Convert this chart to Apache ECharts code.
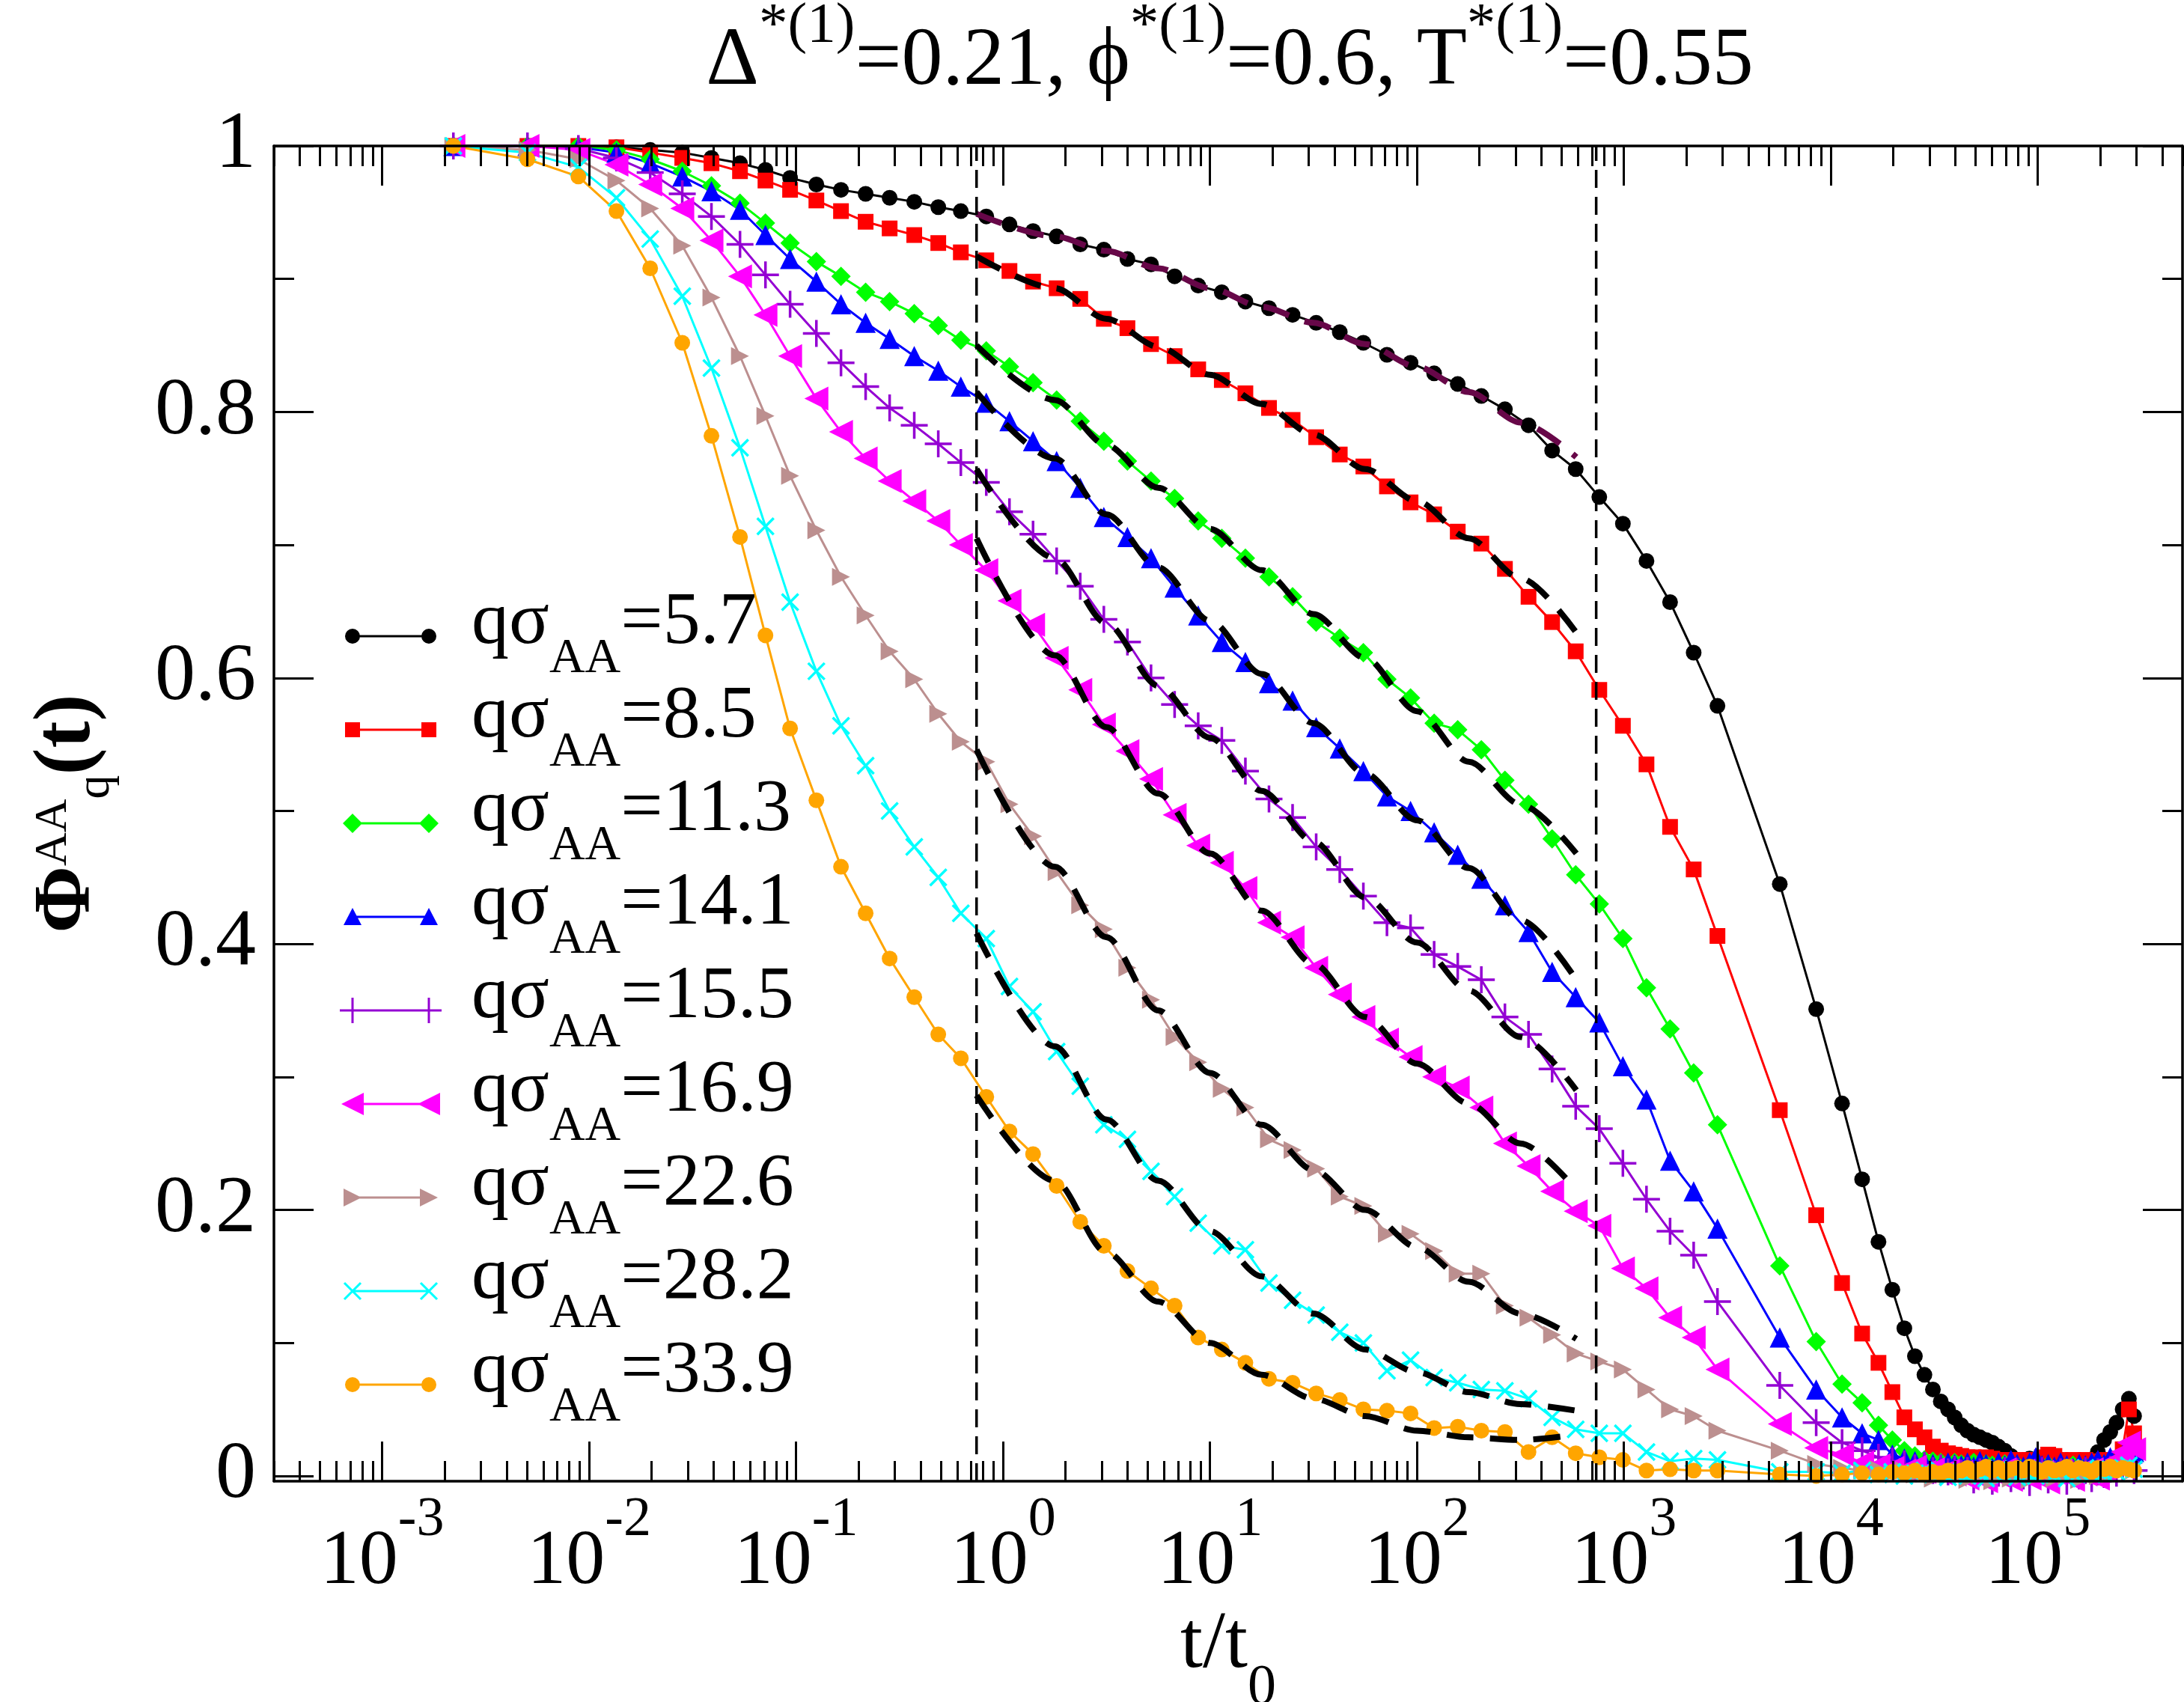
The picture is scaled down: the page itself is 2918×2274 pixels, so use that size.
<!DOCTYPE html>
<html>
<head>
<meta charset="utf-8">
<title>Phi_q^AA(t)</title>
<script src="https://cdn.jsdelivr.net/npm/echarts@6/dist/echarts.min.js"></script>
<style>
  html, body { margin: 0; padding: 0; background: #fff; }
  #chart { width: 2918px; height: 2274px; }
</style>
</head>
<body>
<div id="chart"></div>
<script>
const FONT = 'Liberation Serif';

// time grid, log10(t/t0), shared by all curves
const LOG_T = [
  -2.656, -2.298, -2.052, -1.868, -1.705, -1.550, -1.409, -1.271, -1.148, -1.029,
  -0.902, -0.783, -0.664, -0.548, -0.429, -0.313, -0.204, -0.081, 0.031,
  0.145, 0.259, 0.373, 0.487, 0.601, 0.715, 0.829, 0.943, 1.057, 1.171,
  1.285, 1.399, 1.513, 1.627, 1.741, 1.855, 1.969, 2.083, 2.197, 2.311,
  2.425, 2.539, 2.653, 2.767, 2.881, 2.995, 3.109, 3.223, 3.337,
  3.452, 3.753, 3.929, 4.054, 4.151, 4.230, 4.297, 4.355, 4.406, 4.452, 4.493, 4.531, 4.566, 4.598,
  4.63, 4.66, 4.69, 4.72, 4.75, 4.78, 4.81, 4.84, 4.87, 4.90, 4.93, 4.96, 4.99, 5.02, 5.05,
  5.08, 5.11, 5.14, 5.17, 5.20, 5.23, 5.26, 5.29, 5.32, 5.35, 5.38, 5.41, 5.44, 5.465
];

const Q_LABELS = ['5.7', '8.5', '11.3', '14.1', '15.5', '16.9', '22.6', '28.2', '33.9'];

const PHI_57 = [
  1.000, 1.000, 0.999, 0.999, 0.997, 0.995, 0.991, 0.987, 0.982, 0.976, 0.971, 0.967, 0.964, 0.961, 0.958, 0.954, 0.951, 0.947, 0.941,
  0.936, 0.932, 0.926, 0.922, 0.915, 0.911, 0.902, 0.895, 0.890, 0.883, 0.878, 0.873, 0.867, 0.860, 0.852, 0.843, 0.837, 0.829, 0.821, 0.812,
  0.802, 0.790, 0.771, 0.757, 0.736, 0.716, 0.688, 0.657, 0.619,
  0.579, 0.445, 0.351, 0.280, 0.223, 0.176, 0.140, 0.111, 0.090, 0.076, 0.065, 0.056, 0.050, 0.044,
  0.038, 0.034, 0.031, 0.029, 0.027, 0.025, 0.022, 0.019, 0.015, 0.012, 0.011, 0.013, 0.012, 0.010, 0.009,
  0.011, 0.012, 0.010, 0.009, 0.010, 0.011, 0.012, 0.018, 0.027, 0.033, 0.040, 0.050, 0.058, 0.045
];
const PHI_85 = [
  1.000, 1.000, 1.000, 0.999, 0.995, 0.991, 0.987, 0.981, 0.974, 0.967, 0.959, 0.951, 0.943, 0.938, 0.933, 0.927, 0.920, 0.914, 0.906,
  0.898, 0.893, 0.885, 0.870, 0.863, 0.851, 0.842, 0.832, 0.824, 0.814, 0.803, 0.794, 0.781, 0.768, 0.759, 0.744, 0.732, 0.723, 0.710, 0.701,
  0.682, 0.661, 0.642, 0.620, 0.591, 0.564, 0.535, 0.488, 0.456,
  0.406, 0.275, 0.196, 0.145, 0.107, 0.085, 0.063, 0.044, 0.035, 0.029, 0.022, 0.019, 0.017, 0.016,
  0.015, 0.014, 0.014, 0.013, 0.014, 0.013, 0.012, 0.012, 0.011, 0.012, 0.011, 0.012, 0.011, 0.014, 0.016,
  0.015, 0.012, 0.011, 0.012, 0.010, 0.012, 0.011, 0.010, 0.012, 0.011, 0.013, 0.020, 0.050, 0.032
];
const PHI_113 = [
  1.000, 1.000, 1.000, 0.997, 0.990, 0.981, 0.970, 0.957, 0.942, 0.927, 0.913, 0.902, 0.890, 0.883, 0.874, 0.865, 0.854, 0.846, 0.834,
  0.822, 0.809, 0.793, 0.778, 0.763, 0.748, 0.735, 0.718, 0.705, 0.690, 0.676, 0.661, 0.642, 0.630, 0.619, 0.599, 0.585, 0.566, 0.561, 0.546,
  0.523, 0.505, 0.479, 0.452, 0.430, 0.404, 0.367, 0.336, 0.303,
  0.264, 0.158, 0.101, 0.069, 0.055, 0.038, 0.027, 0.019, 0.015, 0.012, 0.011, 0.010, 0.009, 0.010,
  0.009, 0.008, 0.010, 0.007, 0.009, 0.008, 0.006, 0.009, 0.007, 0.008, 0.006, 0.008, 0.007, 0.005, 0.008,
  0.006, 0.007, 0.005, 0.008, 0.006, 0.007, 0.006, 0.008, 0.006, 0.009, 0.010, 0.012, 0.018, 0.012
];
const PHI_141 = [
  1.000, 1.000, 0.999, 0.995, 0.987, 0.977, 0.966, 0.952, 0.933, 0.915, 0.898, 0.881, 0.867, 0.855, 0.842, 0.831, 0.819, 0.807, 0.793,
  0.778, 0.763, 0.743, 0.721, 0.706, 0.690, 0.668, 0.647, 0.627, 0.612, 0.596, 0.583, 0.563, 0.547, 0.530, 0.511, 0.500, 0.484, 0.467, 0.449,
  0.429, 0.409, 0.379, 0.360, 0.341, 0.308, 0.283, 0.237, 0.214,
  0.186, 0.104, 0.065, 0.044, 0.032, 0.027, 0.016, 0.013, 0.011, 0.010, 0.009, 0.008, 0.010, 0.009,
  0.008, 0.010, 0.007, 0.011, 0.009, 0.006, 0.010, 0.008, 0.012, 0.009, 0.007, 0.010, 0.014, 0.008, 0.009,
  0.007, 0.010, 0.008, 0.006, 0.009, 0.008, 0.010, 0.012, 0.009, 0.014, 0.011, 0.016, 0.022, 0.018
];
const PHI_155 = [
  1.000, 1.000, 0.998, 0.991, 0.980, 0.964, 0.947, 0.926, 0.903, 0.881, 0.859, 0.837, 0.819, 0.803, 0.790, 0.776, 0.762, 0.747, 0.725,
  0.708, 0.688, 0.669, 0.644, 0.627, 0.600, 0.580, 0.564, 0.553, 0.530, 0.509, 0.495, 0.473, 0.456, 0.436, 0.416, 0.412, 0.392, 0.383, 0.373,
  0.345, 0.332, 0.306, 0.278, 0.261, 0.235, 0.208, 0.184, 0.166,
  0.131, 0.068, 0.040, 0.025, 0.019, 0.014, 0.011, 0.009, 0.006, 0.008, 0.004, 0.006, 0.003, 0.005,
  0.002, 0.004, -0.003, 0.003, 0.001, -0.004, 0.002, 0.004, -0.002, 0.003, 0.000, -0.005, 0.002, 0.004, -0.003,
  0.001, 0.003, -0.004, 0.002, 0.000, 0.004, -0.002, 0.003, 0.001, 0.005, 0.002, 0.006, 0.010, 0.004
];
const PHI_169 = [
  1.000, 1.000, 0.997, 0.986, 0.971, 0.953, 0.929, 0.902, 0.873, 0.842, 0.810, 0.785, 0.765, 0.748, 0.733, 0.718, 0.700, 0.681, 0.658,
  0.640, 0.615, 0.591, 0.565, 0.545, 0.524, 0.497, 0.474, 0.461, 0.442, 0.416, 0.405, 0.382, 0.362, 0.345, 0.328, 0.315, 0.300, 0.292, 0.277,
  0.250, 0.233, 0.214, 0.199, 0.188, 0.156, 0.141, 0.119, 0.104,
  0.080, 0.039, 0.021, 0.016, 0.010, 0.008, 0.006, 0.004, 0.007, 0.003, 0.005, 0.002, 0.004, 0.001,
  0.003, -0.002, 0.004, 0.001, -0.004, 0.003, 0.000, 0.005, -0.003, 0.002, 0.004, -0.002, 0.001, 0.003, -0.005,
  0.002, 0.004, 0.000, -0.003, 0.003, 0.001, 0.005, -0.002, 0.004, 0.008, 0.012, 0.018, 0.025, 0.020
];
const PHI_226 = [
  1.000, 0.997, 0.990, 0.974, 0.953, 0.925, 0.886, 0.842, 0.797, 0.752, 0.711, 0.676, 0.647, 0.620, 0.599, 0.573, 0.552, 0.537, 0.505,
  0.481, 0.454, 0.429, 0.411, 0.382, 0.358, 0.330, 0.311, 0.291, 0.277, 0.253, 0.245, 0.231, 0.210, 0.203, 0.182, 0.182, 0.169, 0.152, 0.152,
  0.128, 0.119, 0.106, 0.092, 0.086, 0.080, 0.065, 0.050, 0.045,
  0.034, 0.019, 0.009, 0.006, 0.004, 0.005, 0.002, 0.004, 0.001, 0.003, -0.002, 0.002, 0.000, 0.003,
  0.001, -0.003, 0.002, 0.000, 0.003, -0.004, 0.001, 0.002, -0.002, 0.003, 0.000, -0.003, 0.002, 0.001, 0.004,
  -0.002, 0.002, 0.000, 0.003, -0.003, 0.001, 0.002, 0.000, 0.003, 0.001, 0.004, 0.005, 0.008, 0.004
];
const PHI_282 = [
  1.000, 0.995, 0.984, 0.961, 0.930, 0.887, 0.833, 0.773, 0.714, 0.657, 0.605, 0.564, 0.534, 0.500, 0.473, 0.450, 0.423, 0.404, 0.368,
  0.349, 0.319, 0.293, 0.264, 0.253, 0.229, 0.210, 0.190, 0.173, 0.170, 0.145, 0.132, 0.121, 0.108, 0.100, 0.079, 0.087, 0.074, 0.070, 0.065,
  0.064, 0.058, 0.044, 0.035, 0.032, 0.032, 0.018, 0.011, 0.013,
  0.012, 0.003, 0.003, 0.002, 0.004, 0.001, 0.003, 0.000, 0.002, 0.004, 0.001, 0.003, -0.001, 0.002,
  0.003, 0.000, 0.004, 0.002, -0.002, 0.003, 0.005, 0.001, 0.003, -0.001, 0.004, 0.002, 0.000, 0.005, 0.003,
  0.001, 0.004, -0.002, 0.002, 0.003, 0.006, 0.001, 0.004, 0.002, 0.005, 0.003, 0.006, 0.008, 0.005
];
const PHI_339 = [
  1.000, 0.990, 0.977, 0.951, 0.908, 0.852, 0.782, 0.706, 0.632, 0.562, 0.508, 0.458, 0.423, 0.389, 0.360, 0.332, 0.314, 0.285, 0.259,
  0.242, 0.218, 0.191, 0.173, 0.154, 0.141, 0.128, 0.104, 0.095, 0.085, 0.073, 0.070, 0.062, 0.057, 0.050, 0.049, 0.047, 0.036, 0.037, 0.034,
  0.033, 0.018, 0.029, 0.017, 0.014, 0.012, 0.004, 0.005, 0.004,
  0.004, 0.001, 0.000, 0.001, 0.002, 0.001, 0.003, 0.002, 0.004, 0.001, 0.003, 0.002, 0.004, 0.003,
  0.004, 0.006, 0.003, 0.005, 0.007, 0.004, 0.006, 0.003, 0.005, 0.006, 0.004, 0.007, 0.005, 0.003, 0.006,
  0.004, 0.005, 0.007, 0.004, 0.006, 0.005, 0.003, 0.006, 0.005, 0.007, 0.004, 0.006, 0.005, 0.004
];
const PHI = [PHI_57, PHI_85, PHI_113, PHI_141, PHI_155, PHI_169, PHI_226, PHI_282, PHI_339];

// dashed fits, read on a coarser grid between the two vertical lines
const FIT_LT = [-0.128, 0.25, 0.5, 0.75, 1.0, 1.25, 1.5, 1.75, 2.0, 2.25, 2.5, 2.77];
const FIT_57  = [0.949, 0.932, 0.921, 0.908, 0.893, 0.879, 0.867, 0.851, 0.834, 0.815, 0.792, 0.766];
const FIT_85  = [0.917, 0.893, 0.870, 0.849, 0.828, 0.806, 0.783, 0.757, 0.733, 0.705, 0.675, 0.634];
const FIT_113 = [0.850, 0.809, 0.775, 0.743, 0.712, 0.681, 0.648, 0.615, 0.575, 0.537, 0.505, 0.468];
const FIT_141 = [0.815, 0.765, 0.723, 0.683, 0.643, 0.603, 0.566, 0.528, 0.493, 0.457, 0.418, 0.373];
const FIT_155 = [0.757, 0.690, 0.641, 0.594, 0.555, 0.515, 0.477, 0.435, 0.401, 0.365, 0.330, 0.290];
const FIT_169 = [0.705, 0.617, 0.563, 0.513, 0.468, 0.425, 0.385, 0.345, 0.310, 0.280, 0.250, 0.215];
const FIT_226 = [0.546, 0.458, 0.405, 0.350, 0.303, 0.264, 0.230, 0.200, 0.172, 0.146, 0.122, 0.103];
const FIT_282 = [0.408, 0.323, 0.268, 0.222, 0.184, 0.150, 0.122, 0.095, 0.078, 0.063, 0.054, 0.049];
const FIT_339 = [0.286, 0.222, 0.168, 0.131, 0.100, 0.076, 0.058, 0.045, 0.034, 0.029, 0.027, 0.031];
const FITS = [FIT_57, FIT_85, FIT_113, FIT_141, FIT_155, FIT_169, FIT_226, FIT_282, FIT_339];

const VLINES_LT = [-0.128, 2.866];

// axes
const X_MIN = -3.523, X_MAX = 5.699;
const Y_MIN = -0.004, Y_MAX = 1;
const X_MAJOR = [-3, -2, -1, 0, 1, 2, 3, 4, 5];
const Y_MAJOR = [0, 0.2, 0.4, 0.6, 0.8, 1];
const Y_MINOR = [0.1, 0.3, 0.5, 0.7, 0.9];
const X_MINOR = [];
for (let n = -4; n <= 5; n++) {
  for (let k = 2; k <= 9; k++) {
    const v = n + Math.log10(k);
    if (v > X_MIN && v < X_MAX) X_MINOR.push(v);
  }
}

// marker shapes; "poly" is the legend-icon outline around (0,0)
const STYLES = [
  { color: '#000000', symbol: 'circle', size: 21, icon: 'circle' },
  { color: '#ff0000', symbol: 'rect', size: 21, poly: [[[-10, -10], [10, -10], [10, 10], [-10, 10]]] },
  { color: '#00ff00', symbol: 'diamond', size: 26, poly: [[[0, -13], [13, 0], [0, 13], [-13, 0]]] },
  { color: '#0000ff', symbol: 'triangle', size: 27, poly: [[[0, -12], [12, 11], [-12, 11]]] },
  { color: '#9400d3', symbol: 'path://M0,-1L0,1M-1,0L1,0', size: 36, stroke: true,
    poly: [[[-1.5, -17], [1.5, -17], [1.5, 17], [-1.5, 17]], [[-17, -1.5], [17, -1.5], [17, 1.5], [-17, 1.5]]] },
  { color: '#ff00ff', symbol: 'path://M-1,0L1,-1L1,1Z', size: 32, poly: [[[-15, 0], [15, -15], [15, 15]]] },
  { color: '#bc8f8f', symbol: 'path://M1,0L-1,-1L-1,1Z', size: 24, poly: [[[12, 0], [-12, 12], [-12, -12]]] },
  { color: '#00ffff', symbol: 'path://M-1,-1L1,1M-1,1L1,-1', size: 22, stroke: true,
    poly: [[[-12.1, -9.9], [-9.9, -12.1], [12.1, 9.9], [9.9, 12.1]], [[-12.1, 9.9], [9.9, -12.1], [12.1, -9.9], [-9.9, 12.1]]] },
  { color: '#ffa500', symbol: 'circle', size: 21, icon: 'circle' },
];

// legend icon: short line with a marker at each end (xmgrace style)
const ICON_W = 138, ICON_H = 36, ICON_C1 = 18, ICON_C2 = 120;
function markerPath(st, cx, cy) {
  if (st.icon === 'circle') {
    return `M${cx - 10},${cy}A10,10,0,1,1,${cx + 10},${cy}A10,10,0,1,1,${cx - 10},${cy}Z`;
  }
  return st.poly.map(pg => 'M' + pg.map(p => `${cx + p[0]},${cy + p[1]}`).join('L') + 'Z').join('');
}
function legendIcon(st) {
  const cy = ICON_H / 2;
  return 'path://' +
    `M0,0L0,0ZM${ICON_W},${ICON_H}L${ICON_W},${ICON_H}Z` +
    `M${ICON_C1},${cy - 1.5}L${ICON_C2},${cy - 1.5}L${ICON_C2},${cy + 1.5}L${ICON_C1},${cy + 1.5}Z` +
    markerPath(st, ICON_C1, cy) + markerPath(st, ICON_C2, cy);
}

const AXIS_LINE = { show: true, onZero: false, lineStyle: { color: '#000', width: 3.5 } };
const TICK_STYLE = { color: '#000', width: 3 };

function xAxisDef(position, ticks, len, main) {
  return {
    type: 'value', position, min: X_MIN, max: X_MAX, z: 10,
    axisLine: main ? AXIS_LINE : { show: false, onZero: false },
    axisTick: { show: true, inside: true, length: len, customValues: ticks, lineStyle: TICK_STYLE },
    axisLabel: { show: false },
    splitLine: { show: false },
  };
}
function yAxisDef(position, ticks, len, main) {
  return {
    type: 'value', position, min: Y_MIN, max: Y_MAX, z: 10,
    axisLine: main ? AXIS_LINE : { show: false, onZero: false },
    axisTick: { show: true, inside: true, length: len, customValues: ticks, lineStyle: TICK_STYLE },
    axisLabel: { show: false },
    splitLine: { show: false },
  };
}

const xBottom = xAxisDef('bottom', X_MAJOR, 53, true);
xBottom.axisLabel = {
  show: true, customValues: X_MAJOR, margin: 16,
  fontFamily: FONT,
  formatter: v => '{m|10}{s|' + v + '}',
  rich: {
    m: { fontFamily: FONT, fontSize: 104, color: '#000', verticalAlign: 'bottom', lineHeight: 145 },
    s: { fontFamily: FONT, fontSize: 74, color: '#000', verticalAlign: 'top', lineHeight: 145 },
  },
};
xBottom.name = '{m|t/t}{s|0}';
xBottom.nameLocation = 'middle';
xBottom.nameGap = 160;
xBottom.nameTextStyle = {
  fontFamily: FONT,
  rich: {
    m: { fontFamily: FONT, fontSize: 108, color: '#000', verticalAlign: 'top', lineHeight: 108 },
    s: { fontFamily: FONT, fontSize: 76, color: '#000', verticalAlign: 'top', lineHeight: 108, padding: [73, 0, 0, 0] },
  },
};

const yLeft = yAxisDef('left', Y_MAJOR, 53, true);
yLeft.axisLabel = {
  show: true, customValues: Y_MAJOR, margin: 24,
  formatter: v => String(v),
  fontFamily: FONT, fontSize: 108, color: '#000',
};
yLeft.name = '{p|Φ}{a|AA}{b|q}{p|(t)}';
yLeft.nameLocation = 'middle';
yLeft.nameRotate = 90;
yLeft.nameGap = 209;
yLeft.nameTextStyle = {
  fontFamily: FONT,
  rich: {
    p: { fontFamily: FONT, fontSize: 108, fontWeight: 'bold', color: '#000', verticalAlign: 'top', lineHeight: 120 },
    a: { fontFamily: FONT, fontSize: 62, color: '#000', verticalAlign: 'top', lineHeight: 120, padding: [4, 0, 0, 0] },
    b: { fontFamily: FONT, fontSize: 64, color: '#000', verticalAlign: 'top', lineHeight: 120, padding: [59, 0, 0, 0] },
  },
};

const dataSeries = Q_LABELS.map((q, i) => {
  const st = STYLES[i];
  return {
    name: 'qσAA=' + q,
    type: 'line',
    data: LOG_T.map((x, j) => [x, PHI[i][j]]),
    symbol: st.symbol,
    symbolSize: st.size,
    clip: false,
    lineStyle: { color: st.color, width: 3 },
    itemStyle: st.stroke
      ? { color: st.color, borderColor: st.color, borderWidth: 3.5 }
      : { color: st.color },
    emphasis: { disabled: true },
    z: 3,
  };
});

const fitSeries = FITS.map((vals, i) => ({
  name: 'fit ' + Q_LABELS[i],
  type: 'line',
  data: FIT_LT.map((x, j) => [x, vals[j]]),
  symbol: 'none',
  smooth: 0.3,
  smoothMonotone: 'x',
  lineStyle: { color: i === 0 ? '#670748' : '#000000', width: 8, type: [36, 22] },
  silent: true,
  z: 4,
}));

const vlineSeries = VLINES_LT.map(x => ({
  type: 'line',
  data: [[x, Y_MIN], [x, Y_MAX]],
  symbol: 'none',
  lineStyle: { color: '#000', width: 3.5, type: [24, 12] },
  silent: true,
  z: 5,
}));

const chart = echarts.init(document.getElementById('chart'));
chart.setOption({
  animation: false,
  backgroundColor: '#fff',
  title: {
    text: '{m|Δ}{s|*(1)}{m|=0.21, ϕ}{s|*(1)}{m|=0.6, T}{s|*(1)}{m|=0.55}',
    left: 1643, top: -3, padding: 0, textAlign: 'center',
    textStyle: {
      fontFamily: FONT, fontWeight: 'normal',
      rich: {
        m: { fontFamily: FONT, fontWeight: 'normal', fontSize: 110, color: '#000', verticalAlign: 'bottom', lineHeight: 141 },
        s: { fontFamily: FONT, fontWeight: 'normal', fontSize: 77, color: '#000', verticalAlign: 'top', lineHeight: 141 },
      },
    },
  },
  grid: { left: 366, top: 195, width: 2550, height: 1784, containLabel: false, outerBoundsMode: 'none' },
  legend: {
    orient: 'vertical', left: 471 - ICON_C1, top: 783, padding: 0,
    itemGap: -6, itemWidth: ICON_W, itemHeight: ICON_H,
    symbolKeepAspect: false,
    selectedMode: false,
    itemStyle: { borderWidth: 0 },
    data: Q_LABELS.map((q, i) => ({ name: 'qσAA=' + q, icon: legendIcon(STYLES[i]) })),
    formatter: name => '{m|qσ}{s|AA}{m|=' + name.split('=')[1] + '}',
    textStyle: {
      fontFamily: FONT, fontSize: 100, color: '#000',
      padding: [0, 0, 0, 630 - (471 - ICON_C1) - ICON_W - 5],
      rich: {
        m: { fontFamily: FONT, fontSize: 100, color: '#000', verticalAlign: 'top', lineHeight: 134 },
        s: { fontFamily: FONT, fontSize: 66, color: '#000', verticalAlign: 'top', lineHeight: 134, padding: [65, 0, 0, 0] },
      },
    },
  },
  xAxis: [
    xBottom,
    xAxisDef('bottom', X_MINOR, 27, false),
    xAxisDef('top', X_MAJOR, 53, true),
    xAxisDef('top', X_MINOR, 27, false),
  ],
  yAxis: [
    yLeft,
    yAxisDef('left', Y_MINOR, 27, false),
    yAxisDef('right', Y_MAJOR, 53, true),
    yAxisDef('right', Y_MINOR, 27, false),
  ],
  series: [...dataSeries, ...fitSeries, ...vlineSeries],
});
</script>
</body>
</html>
